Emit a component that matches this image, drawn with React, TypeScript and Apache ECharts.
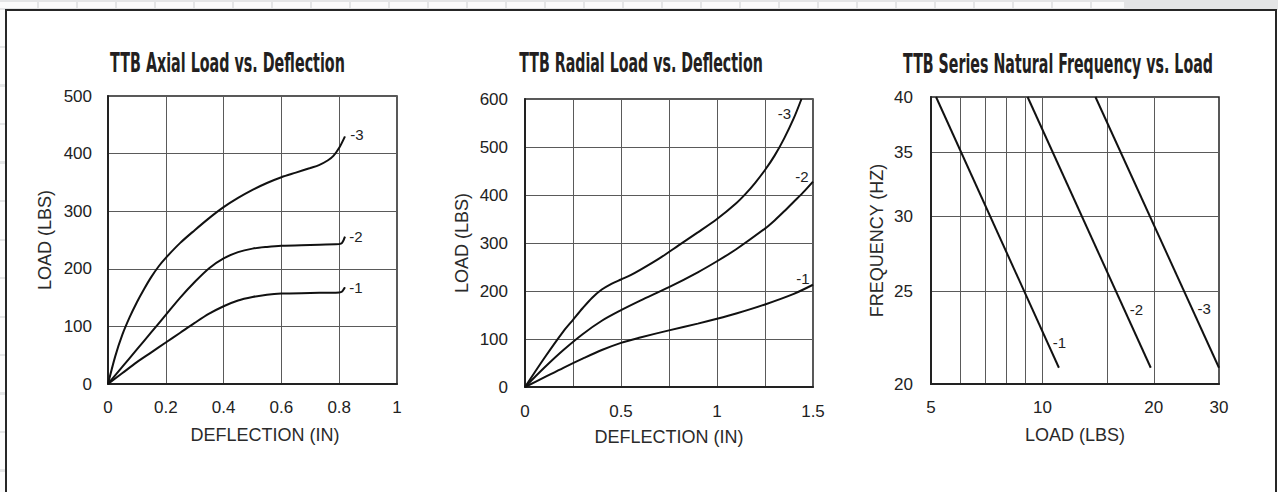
import React, { useEffect, useRef } from 'react';
import * as echarts from 'echarts';

// ---------- Data ----------
const titles = [
  'TTB Axial Load vs. Deflection',
  'TTB Radial Load vs. Deflection',
  'TTB Series Natural Frequency vs. Load',
];
const seriesNames = ['-1', '-2', '-3'];

// Axial load (LBS) vs deflection (IN)
const axial1: [number, number][] = [
  [0, 0], [0.05, 19], [0.1, 38], [0.15, 55], [0.2, 72], [0.25, 89], [0.3, 106],
  [0.35, 122], [0.4, 135], [0.45, 145], [0.5, 151], [0.55, 155], [0.6, 157],
  [0.7, 158], [0.8, 159], [0.81, 160.5], [0.82, 168],
];
const axial2: [number, number][] = [
  [0, 0], [0.05, 30], [0.1, 60], [0.15, 90], [0.2, 120], [0.25, 150], [0.3, 177],
  [0.35, 201], [0.4, 218], [0.45, 229], [0.5, 235], [0.55, 238], [0.6, 240],
  [0.7, 241.5], [0.8, 243], [0.81, 245], [0.82, 256],
];
const axial3: [number, number][] = [
  [0, 0], [0.025, 48], [0.05, 86], [0.075, 116], [0.1, 142], [0.125, 165],
  [0.15, 186], [0.175, 204], [0.2, 219], [0.25, 245], [0.3, 267], [0.35, 288],
  [0.4, 307], [0.45, 323], [0.5, 337], [0.55, 349], [0.6, 359], [0.65, 367],
  [0.7, 375], [0.73, 380], [0.76, 388], [0.78, 396], [0.8, 410], [0.82, 430],
];

// Radial load (LBS) vs deflection (IN)
const radial1: [number, number][] = [
  [0, 0], [0.1, 20], [0.2, 40], [0.3, 59], [0.4, 77], [0.5, 92], [0.6, 103],
  [0.75, 118], [0.9, 132], [1, 142], [1.1, 153], [1.25, 172], [1.4, 194], [1.5, 213],
];
const radial2: [number, number][] = [
  [0, 0], [0.1, 40], [0.2, 77], [0.3, 110], [0.4, 138], [0.5, 160], [0.6, 180],
  [0.75, 208], [0.9, 239], [1, 262], [1.1, 287], [1.25, 330], [1.3, 347],
  [1.35, 366], [1.4, 386], [1.45, 406], [1.5, 428],
];
const radial3: [number, number][] = [
  [0, 0], [0.1, 60], [0.2, 116], [0.25, 140], [0.3, 164], [0.35, 186], [0.4, 203],
  [0.45, 215], [0.5, 224], [0.55, 233], [0.6, 244], [0.7, 268], [0.8, 295],
  [0.9, 322], [1, 350], [1.1, 383], [1.15, 403], [1.2, 426], [1.25, 452],
  [1.3, 482], [1.35, 518], [1.4, 560], [1.44, 600],
];

// Natural frequency (HZ) vs load (LBS), log-log straight lines
const freq1: [number, number][] = [[5.16, 40], [11.08, 20.8]];
const freq2: [number, number][] = [[9.12, 40], [19.62, 20.8]];
const freq3: [number, number][] = [[13.91, 40], [30, 20.8]];
const freqLabelAt: [number, number][] = [[10.32, 22.1], [16.66, 23.92], [25.4, 23.98]];

// Tick values
const loadXLabels = [5, 10, 20, 30];
const loadXGrid = [6, 7, 8, 9, 10, 15, 20];
const freqYLabels = [20, 25, 30, 35, 40];
const freqYGrid = [25, 30, 35];

const FONT = '"Liberation Sans", Arial, Helvetica, sans-serif';
const TITLE_FONT_FAMILY = '"DejaVu Sans Condensed", "DejaVu Sans", sans-serif';

function measure(text: string, font: string): number {
  const c = document.createElement('canvas').getContext('2d');
  if (!c) return text.length * 10;
  c.font = font;
  return c.measureText(text).width;
}

const axisCommon = {
  axisLine: { show: true, lineStyle: { color: '#222', width: 2 } },
  axisTick: { show: false },
  splitLine: { show: true, lineStyle: { color: '#5a5a5a', width: 1 } },
  nameLocation: 'middle' as const,
  nameTextStyle: { fontSize: 18, color: '#2a2a2a', fontFamily: FONT },
};

function curve(data: [number, number][], idx: number, label: string, anchor: [number, number], offset: [number, number]) {
  return {
    type: 'line',
    xAxisIndex: idx,
    yAxisIndex: idx,
    data,
    symbol: 'none',
    showSymbol: false,
    smooth: 0.3,
    silent: true,
    lineStyle: { color: '#111', width: 2 },
    markPoint: {
      symbol: 'circle',
      symbolSize: 1,
      silent: true,
      itemStyle: { color: 'transparent' },
      label: {
        show: true,
        formatter: label,
        color: '#222',
        fontSize: 15,
        fontFamily: FONT,
        offset,
      },
      data: [{ coord: anchor }],
    },
  };
}

export default function App() {
  const ref = useRef<HTMLDivElement>(null);

  useEffect(() => {
    document.body.style.margin = '0';
    if (!ref.current) return;
    const chart = echarts.init(ref.current, undefined, { renderer: 'svg' });

    const titleFont = `bold 26px ${TITLE_FONT_FAMILY}`;
    const titleTargets = [
      { cx: 227.5, cy: 63, w: 235 },
      { cx: 641, cy: 63, w: 244 },
      { cx: 1058, cy: 64, w: 310 },
    ];
    const graphics = titles.map((t, i) => {
      const m = measure(t, titleFont);
      return {
        type: 'text',
        x: titleTargets[i].cx,
        y: titleTargets[i].cy,
        scaleX: titleTargets[i].w / m,
        scaleY: 1,
        silent: true,
        style: {
          text: t,
          font: titleFont,
          fill: '#231f20',
          align: 'center',
          verticalAlign: 'middle',
        },
      };
    });

    const last = (d: [number, number][]) => d[d.length - 1];

    chart.setOption({
      animation: false,
      textStyle: { fontFamily: FONT, fontSize: 17, color: '#222' },
      graphic: graphics,
      grid: [
        { left: 108, top: 96, width: 289, height: 288, show: true, borderColor: '#222', borderWidth: 1.5 },
        { left: 525, top: 99, width: 288, height: 288, show: true, borderColor: '#222', borderWidth: 1.5 },
        { left: 931, top: 97, width: 288, height: 287, show: true, borderColor: '#222', borderWidth: 1.5 },
      ],
      xAxis: [
        {
          ...axisCommon,
          gridIndex: 0,
          type: 'value',
          min: 0,
          max: 1,
          interval: 0.2,
          name: 'DEFLECTION (IN)',
          nameGap: 42,
          nameTextStyle: { ...axisCommon.nameTextStyle, padding: [0, 0, 0, 25] },
          axisLabel: { show: true, fontSize: 17, color: '#222', fontFamily: FONT, margin: 15 },
        },
        {
          ...axisCommon,
          gridIndex: 1,
          type: 'value',
          min: 0,
          max: 1.5,
          interval: 0.25,
          name: 'DEFLECTION (IN)',
          nameGap: 41,
          axisLabel: {
            show: true,
            fontSize: 17,
            color: '#222',
            fontFamily: FONT,
            margin: 16,
            formatter: (v: number) => (Math.round(v * 4) % 2 === 0 ? String(v) : ''),
          },
        },
        {
          ...axisCommon,
          gridIndex: 2,
          type: 'log',
          logBase: 10,
          min: 5,
          max: 30,
          name: 'LOAD (LBS)',
          nameGap: 42,
          axisTick: { show: false, customValues: loadXGrid },
          axisLabel: {
            show: true,
            fontSize: 17,
            color: '#222',
            fontFamily: FONT,
            margin: 15,
            customValues: loadXLabels,
            formatter: (v: number) => String(Math.round(v)),
          },
        },
      ],
      yAxis: [
        {
          ...axisCommon,
          gridIndex: 0,
          type: 'value',
          min: 0,
          max: 500,
          interval: 100,
          name: 'LOAD (LBS)',
          nameGap: 54,
          axisLabel: { show: true, fontSize: 17, color: '#222', fontFamily: FONT, margin: 16 },
        },
        {
          ...axisCommon,
          gridIndex: 1,
          type: 'value',
          min: 0,
          max: 600,
          interval: 100,
          name: 'LOAD (LBS)',
          nameGap: 54,
          axisLabel: { show: true, fontSize: 17, color: '#222', fontFamily: FONT, margin: 17 },
        },
        {
          ...axisCommon,
          gridIndex: 2,
          type: 'log',
          logBase: 10,
          min: 20,
          max: 40,
          name: 'FREQUENCY (HZ)',
          nameGap: 45,
          axisTick: { show: false, customValues: freqYGrid },
          axisLabel: {
            show: true,
            fontSize: 17,
            color: '#222',
            fontFamily: FONT,
            margin: 18,
            customValues: freqYLabels,
            formatter: (v: number) => String(Math.round(v)),
          },
        },
      ],
      series: [
        curve(axial1, 0, seriesNames[0], last(axial1), [11, 0]),
        curve(axial2, 0, seriesNames[1], last(axial2), [11, 0]),
        curve(axial3, 0, seriesNames[2], last(axial3), [12, -2]),
        curve(radial1, 1, seriesNames[0], last(radial1), [-10, -6]),
        curve(radial2, 1, seriesNames[1], last(radial2), [-11, -5]),
        curve(radial3, 1, seriesNames[2], last(radial3), [-17, 14]),
        curve(freq1, 2, seriesNames[0], freqLabelAt[0], [12, 0]),
        curve(freq2, 2, seriesNames[1], freqLabelAt[1], [12, 0]),
        curve(freq3, 2, seriesNames[2], freqLabelAt[2], [12, 0]),
      ],
    });

    return () => chart.dispose();
  }, []);

  return (
    <div style={{ position: 'relative', width: 1278, height: 492, overflow: 'hidden', background: '#fff' }}>
      <div style={{ position: 'absolute', left: 0, top: 0, width: 1278, height: 10, background: '#e4e5e6' }} />
      <div
        style={{
          position: 'absolute', left: 0, top: 2, width: 1124, height: 6,
          background: 'repeating-linear-gradient(90deg, #fbfbfb 0px, #fbfbfb 37px, #e4e5e6 37px, #e4e5e6 39px)',
        }}
      />
      <div
        style={{
          position: 'absolute', left: 0, top: 10, width: 5, height: 482,
          background: 'repeating-linear-gradient(180deg, #fbfbfb 0px, #fbfbfb 36px, #e4e5e6 36px, #e4e5e6 38.5px)',
        }}
      />
      <div
        style={{
          position: 'absolute', left: 5, top: 9, width: 1272, height: 540,
          border: '2.5px solid #262626', boxSizing: 'border-box', background: '#fff',
        }}
      />
      <div ref={ref} style={{ position: 'absolute', left: 0, top: 0, width: 1278, height: 492 }} />
    </div>
  );
}
